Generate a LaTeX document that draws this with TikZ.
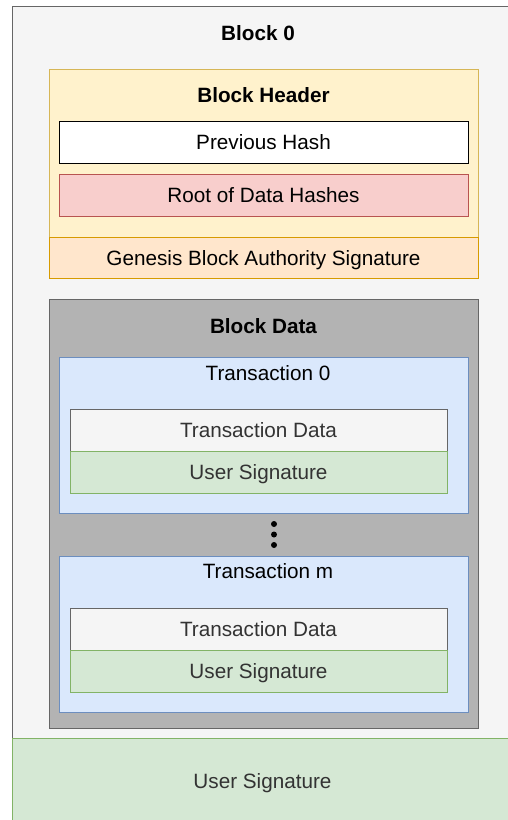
\documentclass[tikz,border=0pt]{standalone}
\usepackage{fontspec}
\setmainfont{Liberation Sans}
\usepackage{xcolor}
\usepackage{tikz}

\definecolor{outerfill}{HTML}{F5F5F5}
\definecolor{outerline}{HTML}{666666}
\definecolor{hdrfill}{HTML}{FFF2CC}
\definecolor{hdrline}{HTML}{D6B656}
\definecolor{rootfill}{HTML}{F8CECC}
\definecolor{rootline}{HTML}{B85450}
\definecolor{genfill}{HTML}{FFE6CC}
\definecolor{genline}{HTML}{D79B00}
\definecolor{datafill}{HTML}{B3B3B3}
\definecolor{txfill}{HTML}{DAE8FC}
\definecolor{txline}{HTML}{6C8EBF}
\definecolor{sigfill}{HTML}{D5E8D4}
\definecolor{sigline}{HTML}{82B366}
\definecolor{txtgray}{HTML}{333333}

\begin{document}
\begin{tikzpicture}[x=1pt, y=-1pt,
    box/.style={line width=1pt},
    lbl/.style={font=\fontsize{20.7}{24}\selectfont, inner sep=0pt,
        text height=15pt, text depth=0pt, anchor=center},
    ttl/.style={lbl, font=\fontsize{20.7}{24}\selectfont\bfseries}]
        \useasboundingbox (0,0) rectangle (508,820);
        \clip (0,0) rectangle (508,820);
        % outer block
        \draw[box, fill=outerfill, draw=outerline] (12,6) rectangle (530,760);
        \node[ttl] (blk) at (258,32.5) {Block 0};
        % header
        \draw[box, fill=hdrfill, draw=hdrline] (49,69) rectangle (478,237);
        \node[ttl] (hdr) at (263.5,95.3) {Block Header};
        \draw[box, fill=white, draw=black] (59,121) rectangle (468,163);
        \node[lbl] (prev) at (263.5,142) {Previous Hash};
        \draw[box, fill=rootfill, draw=rootline] (59,174) rectangle (468,216);
        \node[lbl] (root) at (263.5,195) {Root of Data Hashes};
        \draw[box, fill=genfill, draw=genline] (49,237) rectangle (478,278);
        \node[lbl] (gen) at (263.5,257.5) {Genesis Block Authority Signature};
        % data
        \draw[box, fill=datafill, draw=outerline] (49,299) rectangle (478,728);
        \node[ttl] (data) at (263.5,326.3) {Block Data};
        % transaction 0
        \draw[box, fill=txfill, draw=txline] (59,357) rectangle (468,513);
        \node[lbl] (tx0) at (268,372.8) {Transaction 0};
        \draw[box, fill=outerfill, draw=outerline] (70,409) rectangle (447,451);
        \node[lbl, text=txtgray] (txd0) at (258.5,430) {Transaction Data};
        \draw[box, fill=sigfill, draw=sigline] (70,451) rectangle (447,493);
        \node[lbl, text=txtgray] (sig0) at (258.5,472) {User Signature};
        % dots
        \foreach \y in {524,534.5,545}
            \fill (274,\y) circle (3);
        % transaction m
        \draw[box, fill=txfill, draw=txline] (59,556) rectangle (468,712);
        \node[lbl] (txm) at (268,571.3) {Transaction m};
        \draw[box, fill=outerfill, draw=outerline] (70,608) rectangle (447,650);
        \node[lbl, text=txtgray] (txdm) at (258.5,629) {Transaction Data};
        \draw[box, fill=sigfill, draw=sigline] (70,650) rectangle (447,692);
        \node[lbl, text=txtgray] (sigm) at (258.5,671) {User Signature};
        % bottom signature
        \draw[box, fill=sigfill, draw=sigline] (12,738) rectangle (530,840);
        \node[lbl, text=txtgray] (sig) at (262.5,780.5) {User Signature};
\end{tikzpicture}
\end{document}
